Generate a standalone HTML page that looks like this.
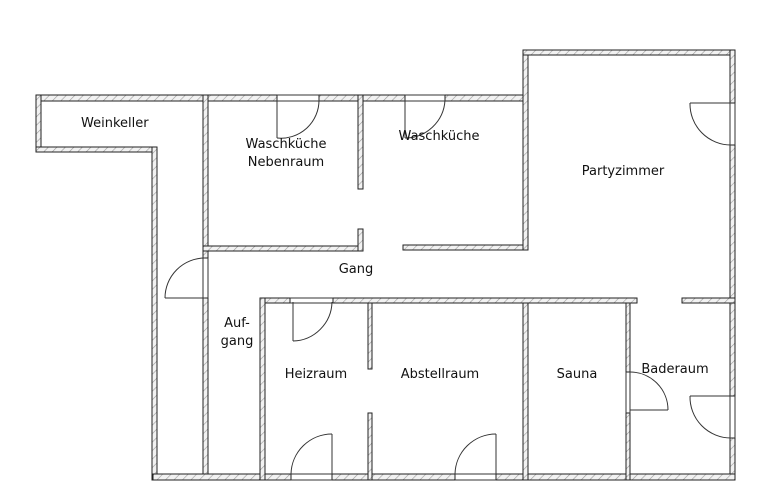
<!DOCTYPE html>
<html><head><meta charset="utf-8"><style>
html,body{margin:0;padding:0;background:#fff;width:770px;height:503px;overflow:hidden}
text{font-family:"DejaVu Sans","Liberation Sans",sans-serif;font-size:13px;fill:#111}
</style></head><body>
<svg width="770" height="503" viewBox="0 0 770 503" xmlns="http://www.w3.org/2000/svg">
<defs>
<pattern id="h" width="6" height="6" patternUnits="userSpaceOnUse" patternTransform="rotate(45)">
<rect width="6" height="6" fill="#f2f2f2"/><line x1="0" y1="0" x2="0" y2="6" stroke="#999" stroke-width="1.2"/>
</pattern>
</defs>
<g fill="url(#h)" stroke="#222" stroke-width="1">
<rect x="36" y="95" width="241" height="6"/>
<rect x="319" y="95" width="86" height="6"/>
<rect x="445" y="95" width="83" height="6"/>
<rect x="36" y="95" width="5" height="57"/>
<rect x="36" y="147" width="121" height="5"/>
<rect x="152" y="147" width="5" height="333"/>
<rect x="203" y="95" width="5" height="163"/>
<rect x="203" y="298" width="5" height="182"/>
<rect x="203" y="246" width="160" height="5"/>
<rect x="358" y="95" width="5" height="94"/>
<rect x="358" y="229" width="5" height="22"/>
<rect x="403" y="245" width="125" height="5"/>
<rect x="523" y="50" width="5" height="200"/>
<rect x="523" y="50" width="212" height="5"/>
<rect x="730" y="50" width="5" height="53"/>
<rect x="730" y="145" width="5" height="251"/>
<rect x="730" y="438" width="5" height="42"/>
<rect x="153" y="474" width="138" height="6"/>
<rect x="332" y="474" width="123" height="6"/>
<rect x="496" y="474" width="239" height="6"/>
<rect x="260" y="298" width="30" height="5"/>
<rect x="333" y="298" width="304" height="5"/>
<rect x="682" y="298" width="53" height="5"/>
<rect x="260" y="298" width="5" height="182"/>
<rect x="368" y="303" width="4" height="66"/>
<rect x="368" y="413" width="4" height="67"/>
<rect x="523" y="303" width="5" height="177"/>
<rect x="626" y="303" width="4" height="69"/>
<rect x="626" y="413" width="4" height="67"/>
</g>
<g fill="none" stroke="#333" stroke-width="1">
<!-- gap frame lines -->
<path d="M277 95H319M277 101H319M405 95H445M405 101H445"/>
<path d="M291 474H332M291 480H332M455 474H496M455 480H496"/>
<path d="M290 298H333M290 303H333"/>
<path d="M730 103V145M735 103V145M730 396V438M735 396V438"/>
<path d="M203 258V298M208 258V298M626 372V413M630 372V413"/>
<!-- doors -->
<line x1="277" y1="100" x2="277" y2="138"/><path d="M277 138 A38 38 0 0 0 319 100"/>
<line x1="405" y1="100" x2="405" y2="138"/><path d="M405 138 A40 40 0 0 0 445 100"/>
<line x1="165" y1="298" x2="205" y2="298"/><path d="M165 298 A40 40 0 0 1 205 258"/>
<line x1="293" y1="302" x2="293" y2="341"/><path d="M293 341 A40 40 0 0 0 332 302"/>
<line x1="332" y1="474" x2="332" y2="434"/><path d="M332 434 A41 41 0 0 0 291 474"/>
<line x1="496" y1="474" x2="496" y2="434"/><path d="M496 434 A41 41 0 0 0 455 474"/>
<line x1="690" y1="103" x2="731" y2="103"/><path d="M690 103 A41 41 0 0 0 731 145"/>
<line x1="690" y1="396" x2="731" y2="396"/><path d="M690 396 A41 41 0 0 0 731 438"/>
<line x1="630" y1="410" x2="668" y2="410"/><path d="M668 410 A38 38 0 0 0 630 372"/>
</g>
<text x="81" y="127">Weinkeller</text>
<text x="286" y="148" text-anchor="middle">Waschküche</text>
<text x="286" y="166" text-anchor="middle">Nebenraum</text>
<text x="439" y="140" text-anchor="middle">Waschküche</text>
<text x="623" y="175" text-anchor="middle">Partyzimmer</text>
<text x="356" y="273" text-anchor="middle">Gang</text>
<text x="237" y="327" text-anchor="middle">Auf-</text>
<text x="237" y="345" text-anchor="middle">gang</text>
<text x="316" y="378" text-anchor="middle">Heizraum</text>
<text x="440" y="378" text-anchor="middle">Abstellraum</text>
<text x="577" y="378" text-anchor="middle">Sauna</text>
<text x="675" y="373" text-anchor="middle">Baderaum</text>
</svg>
</body></html>
